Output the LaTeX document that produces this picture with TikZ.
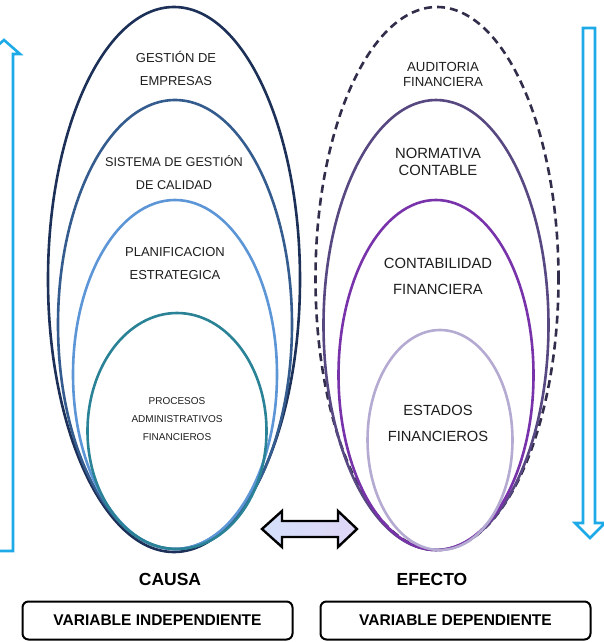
\documentclass[tikz,border=0pt]{standalone}
\usepackage{fontspec}
\setmainfont{Liberation Sans}
\usetikzlibrary{shapes.geometric}
\definecolor{lA}{RGB}{28,48,88}
\definecolor{lB}{RGB}{52,92,142}
\definecolor{lC}{RGB}{92,150,215}
\definecolor{lD}{RGB}{42,130,150}
\definecolor{rA}{RGB}{50,45,75}
\definecolor{rB}{RGB}{88,72,130}
\definecolor{rC}{RGB}{120,50,170}
\definecolor{rD}{RGB}{180,170,210}
\definecolor{arrowblue}{RGB}{30,170,230}
\definecolor{txt}{RGB}{30,30,30}
\definecolor{fillA}{RGB}{212,224,250}
\definecolor{fillB}{RGB}{224,214,246}
\begin{document}
\begin{tikzpicture}[x=1pt,y=-1pt,
  ring/.style={draw, ellipse, inner sep=0pt, line width=2.6pt},
  lbl/.style={align=center, text=txt, inner sep=0pt},
  varbox/.style={draw=black, line width=2pt, rounded corners=6pt, minimum width=270pt, minimum height=38pt, inner sep=0pt, font={\fontsize{15.5}{18}\selectfont\bfseries}},
  headlbl/.style={inner sep=0pt, font={\fontsize{17.5}{20}\selectfont\bfseries}},
  bluearrow/.style={draw=arrowblue, line width=2.6pt, fill=white, line join=miter}
]
\useasboundingbox (0,0) rectangle (604,642);

% side arrows
\draw[bluearrow] (-5,551) -- (-5,54) -- (-12,54) -- (4,40) -- (20,54) -- (13,54) -- (13,551) -- cycle;
\draw[bluearrow] (583,28) -- (595,28) -- (595,523) -- (605,523) -- (590,538) -- (575,523) -- (583,523) -- cycle;

% left ellipses
\node[ring, draw=lA, minimum width=252pt, minimum height=545pt] (g1) at (174,279.5) {};
\node[ring, draw=lB, minimum width=234pt, minimum height=449pt] (g2) at (175,324.5) {};
\node[ring, draw=lC, minimum width=204pt, minimum height=349pt] (g3) at (175,374.5) {};
\node[ring, draw=lD, minimum width=179pt, minimum height=236pt] (g4) at (177,431) {};

% right ellipses
\node[ring, draw=rA, dash pattern=on 8pt off 5pt, minimum width=243pt, minimum height=543pt] (r1) at (437,278.5) {};
\node[ring, draw=rB, minimum width=225pt, minimum height=450pt] (r2) at (436,325) {};
\node[ring, draw=rC, minimum width=195pt, minimum height=350pt] (r3) at (436,375) {};
\node[ring, draw=rD, minimum width=145pt, minimum height=220pt] (r4) at (440,440) {};

% left labels
\node[lbl, font={\fontsize{13}{23}\selectfont}] (t1) at (176,68) {GESTIÓN DE\\EMPRESAS};
\node[lbl, font={\fontsize{12.7}{23}\selectfont}] (t2) at (174,173) {SISTEMA DE GESTIÓN\\DE CALIDAD};
\node[lbl, font={\fontsize{13}{23}\selectfont}] (t3) at (175,263.5) {PLANIFICACION\\ESTRATEGICA};
\node[lbl, font={\fontsize{10}{18}\selectfont}] (t4) at (177,419) {PROCESOS\\ADMINISTRATIVOS\\FINANCIEROS};

% right labels
\node[lbl, font={\fontsize{13.2}{15}\selectfont}] (u1) at (443,74.5) {AUDITORIA\\FINANCIERA};
\node[lbl, font={\fontsize{14.8}{17.5}\selectfont}] (u2) at (438,162) {NORMATIVA\\CONTABLE};
\node[lbl, font={\fontsize{14.8}{26}\selectfont}] (u3) at (438,276) {CONTABILIDAD\\FINANCIERA};
\node[lbl, font={\fontsize{14.7}{26}\selectfont}] (u4) at (438,423) {ESTADOS\\FINANCIEROS};

% double arrow
\draw[black, line width=2.4pt, line join=miter, left color=fillA, right color=fillB, middle color=fillA!50!fillB]
  (262,529) -- (282,511) -- (282,521) -- (338,521) -- (338,511) -- (357,529)
  -- (338,547) -- (338,537) -- (282,537) -- (282,547) -- cycle;

% bottom labels
\node[headlbl] (causa) at (170,579.5) {CAUSA};
\node[headlbl] (efecto) at (432,579.5) {EFECTO};
\node[varbox] (vi) at (157.5,620.5) {VARIABLE INDEPENDIENTE};
\node[varbox] (vd) at (455.5,620.5) {VARIABLE DEPENDIENTE};
\end{tikzpicture}
\end{document}
